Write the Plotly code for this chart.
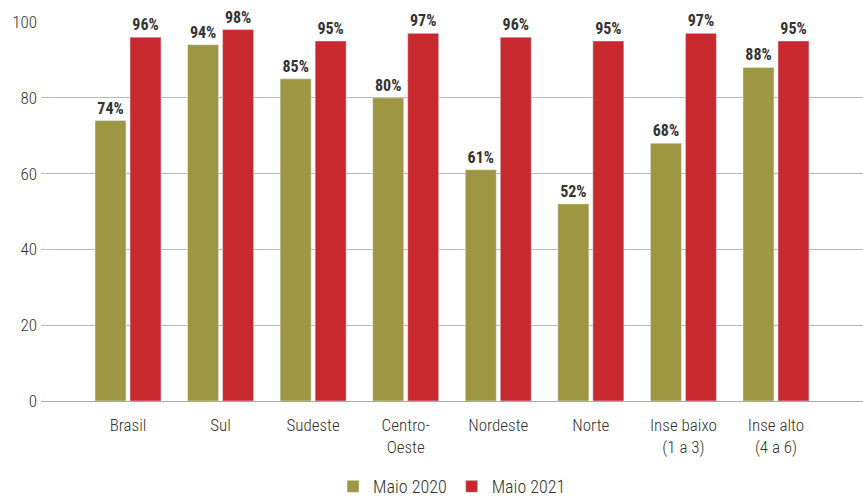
import plotly.graph_objects as go

categories = ["Brasil", "Sul", "Sudeste", "Centro-<br>Oeste", "Nordeste", "Norte",
              "Inse baixo<br>(1 a 3)", "Inse alto<br>(4 a 6)"]
maio_2020 = [74, 94, 85, 80, 61, 52, 68, 88]
maio_2021 = [96, 98, 95, 97, 96, 95, 97, 95]
y_ticks = [0, 20, 40, 60, 80, 100]

FONT = "Roboto Condensed, Liberation Sans Narrow, DejaVu Sans Condensed, sans-serif"
OLIVE = "#9d9744"
RED = "#c8292f"
TEXT = "#333333"

fig = go.Figure()
for name, vals, color in [("Maio 2020", maio_2020, OLIVE), ("Maio 2021", maio_2021, RED)]:
    fig.add_trace(go.Bar(
        x=categories, y=vals, name=name, marker_color=color,
        text=[f"<b>{v}%</b>" for v in vals], textposition="outside",
        textfont=dict(family=FONT, size=16, color=TEXT),
        cliponaxis=False,
    ))

fig.update_layout(
    width=863, height=500,
    margin=dict(l=41, r=0, t=22, b=99, autoexpand=False),
    plot_bgcolor="white", paper_bgcolor="white",
    barmode="group", bargap=0.244, bargroupgap=0.114,
    font=dict(family=FONT, color=TEXT),
    showlegend=True,
    legend=dict(orientation="h", x=0.5, xanchor="center", y=-0.226, yanchor="middle",
                font=dict(family=FONT, size=18, color=TEXT, weight=300),
                itemwidth=30, traceorder="normal"),
    xaxis=dict(range=[-0.94, 7.94], showgrid=False, showline=False, zeroline=False,
               tickfont=dict(family=FONT, size=17, color=TEXT, weight=300),
               ticks="", ticklabelstandoff=12, automargin=False),
    yaxis=dict(range=[0, 100], tickvals=y_ticks, showgrid=True, gridcolor="#b9b9b9",
               gridwidth=1, zeroline=True, zerolinecolor="#a8a8a8", zerolinewidth=1,
               showline=False, ticks="", automargin=False,
               tickfont=dict(family=FONT, size=17, color=TEXT, weight=300),
               ticklabelstandoff=3),
)

fig.write_html("out.html")
